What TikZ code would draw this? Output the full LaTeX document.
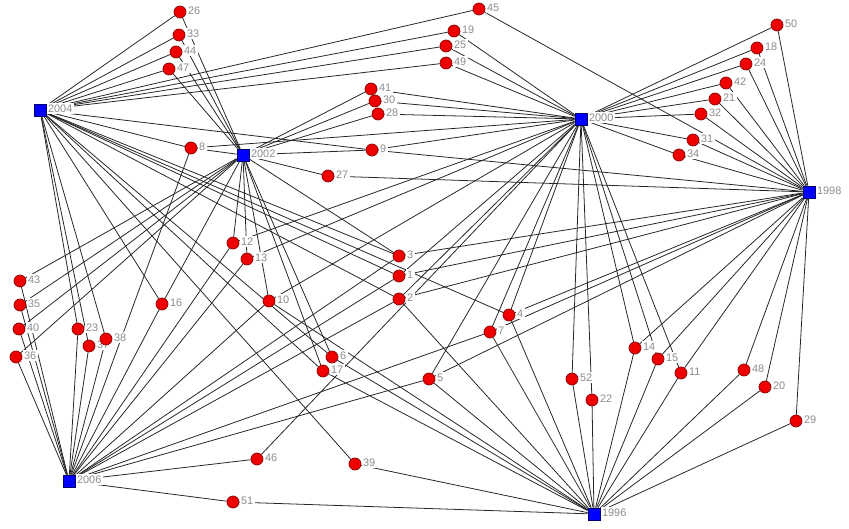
\documentclass[tikz,border=0pt]{standalone}
\usepackage{fontspec}
\setmainfont{Liberation Sans}
\usetikzlibrary{backgrounds}
\definecolor{yrfill}{HTML}{0000FF}
\definecolor{yrline}{HTML}{000070}
\definecolor{ppfill}{HTML}{EE0000}
\definecolor{ppline}{HTML}{8B0000}
\definecolor{lblgray}{HTML}{8C8C8C}
\tikzset{
  yr/.style={draw=yrline, fill=yrfill, minimum size=2.4mm, inner sep=0pt},
  paper/.style={circle, draw=ppline, fill=ppfill, minimum size=2.4mm, inner sep=0pt},
  lbl/.style={text=lblgray, fill=white, font=\fontsize{6.2}{7}\selectfont, inner sep=0.8pt, yshift=0.3mm},
  tie/.style={line width=0.45pt, black!85}
}

\begin{document}
\begin{tikzpicture}[x=0.2mm, y=-0.2mm]
  \useasboundingbox (0,0) rectangle (849,529);
  % year nodes
  \foreach \yr/\px/\py in {2004/40/110, 2002/243/155, 2000/581/119,
      1998/809/192, 2006/69/481, 1996/594/514}
    \node[yr, label={[lbl]right:\yr}] (y\yr) at (\px,\py) {};
  % numbered nodes
  \foreach \n/\px/\py in {26/180/12, 33/179/35, 44/176/52, 47/169/69, 8/191/148,
      41/371/89, 30/375/101, 28/378/114, 9/372/150, 27/328/176,
      45/479/9, 19/454/31, 25/446/46, 49/446/63,
      50/777/25, 18/757/48, 24/746/64, 42/726/83, 21/715/99, 32/701/114,
      31/693/140, 34/679/155,
      43/20/281, 35/20/305, 40/19/329, 36/16/357, 23/78/329, 37/89/346,
      38/106/339, 16/162/304, 12/233/243, 13/247/259, 10/269/301,
      3/399/256, 1/399/276, 2/399/299, 6/332/357, 17/323/371,
      46/257/459, 39/355/464, 51/233/502, 4/509/315, 7/490/332, 5/429/379,
      52/572/379, 22/592/400, 14/635/348, 15/658/359, 11/681/373,
      48/744/370, 20/765/387, 29/796/421}
    \node[paper, label={[lbl]right:\n}] (n\n) at (\px,\py) {};
  % ties
  \begin{scope}[on background layer]
    \foreach \n/\ys in {26/{2004,2002}, 33/{2004,2002}, 44/{2004,2002}, 47/{2004,2002},
        45/{2004,1998}, 19/{2004,2000}, 25/{2004,2000}, 49/{2004,2000},
        41/{2002,2000}, 30/{2002,2000}, 28/{2002,2000},
        8/{2004,2002,2000,2006}, 9/{2004,2002,2000,1998}, 27/{2002,1998},
        50/{2000,1998}, 18/{2000,1998}, 24/{2000,1998}, 42/{2000,1998},
        21/{2000,1998}, 32/{2000,1998}, 31/{2000,1998}, 34/{2000,1998},
        43/{2002,2006}, 35/{2002,2006}, 40/{2002,2006}, 36/{2002,2006},
        23/{2004,2006}, 37/{2004,2006}, 38/{2004,2006},
        16/{2004,2002,2006}, 12/{2002,2000,2006}, 13/{2002,2000,2006},
        10/{2002,2000,2006,1996},
        3/{2004,2002,1998,2006}, 1/{2004,2000,1998,2006}, 2/{2004,2000,1998,2006,1996},
        6/{2004,2002,1996}, 17/{2004,2002,1996},
        4/{2004,2000,1998,1996}, 7/{2000,1998,1996,2006}, 5/{2000,1998,1996,2006},
        52/{2000,1996}, 22/{2000,1996},
        14/{2000,1998,1996}, 15/{2000,1998,1996}, 11/{2000,1998,1996},
        48/{1998,1996}, 20/{1998,1996}, 29/{1998,1996},
        46/{2006,2000}, 39/{2004,1996}, 51/{2006,1996}}
      \foreach \yr in \ys
        \draw[tie] (n\n) -- (y\yr);
  \end{scope}
\end{tikzpicture}
\end{document}
